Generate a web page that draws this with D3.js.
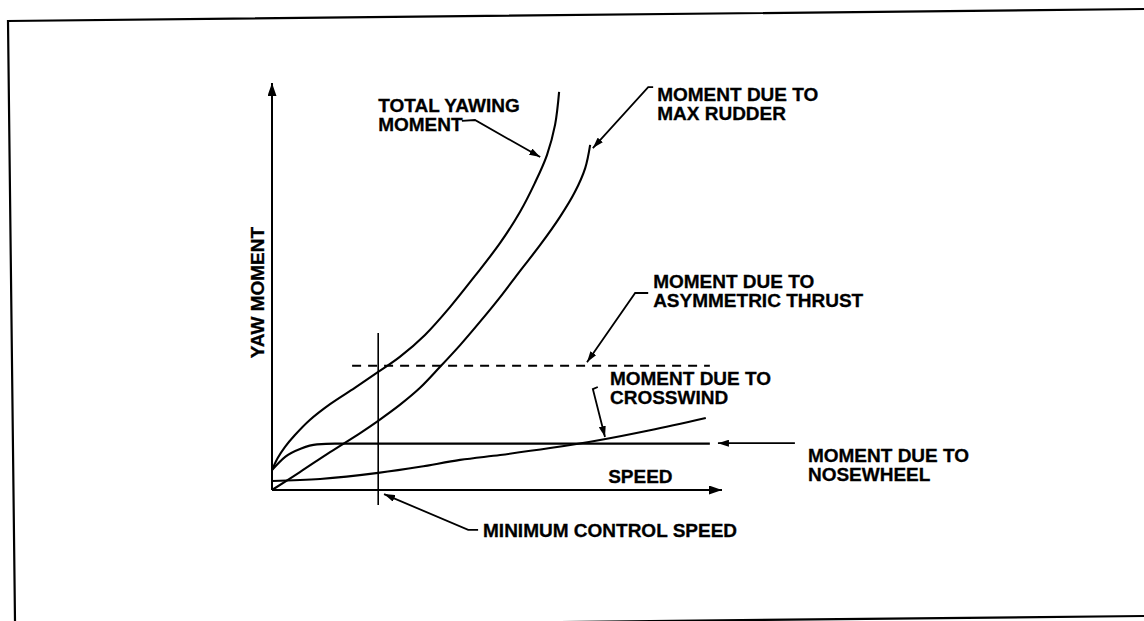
<!DOCTYPE html>
<html>
<head>
<meta charset="utf-8">
<script src="https://cdn.jsdelivr.net/npm/d3@7"></script>
<style>
  body { margin: 0; background: #fff; }
  text { font-family: "Liberation Sans", Arial, sans-serif; font-weight: bold; font-size: 19px; fill: #000; stroke: #000; stroke-width: 0.3px; }
</style>
</head>
<body>
<svg id="chart" width="1144" height="621"></svg>
<script>
// values (speed and yaw moment in arbitrary 0-100 units)
const totalSpeed   = [0, 1.3, 2.9, 5.1, 8.4, 12.9, 18.4, 23.6, 28.4, 34, 39.6, 45.1, 50.7, 55.1, 58.4, 61.1, 62.9, 63.8];
const totalMoment  = [4.9, 7.9, 10.6, 13.5, 17.2, 21.1, 25.1, 29.0, 32.7, 38.1, 45.0, 52.6, 60.7, 68.3, 75.4, 82.3, 89.7, 97.8];

const rudderSpeed  = [0, 6.2, 12.9, 19.6, 23.6, 28.4, 32.9, 37.3, 41.8, 46.2, 50.7, 55.1, 59.6, 64, 67.3, 69.6, 70.7];
const rudderMoment = [0, 4.4, 9.3, 14.0, 17.0, 20.9, 25.1, 30.2, 35.6, 41.3, 47.4, 53.8, 60.2, 67.1, 73.2, 79.1, 84.8];

const noseSpeed    = [0, 3, 6.5, 10, 14, 97.3];
const noseMoment   = [4.9, 8.2, 10.2, 11.2, 11.4, 11.4];

const windSpeed    = [0, 10.7, 23.6, 32.9, 41.8, 50.7, 61.8, 72.9, 84, 96.4];
const windMoment   = [2.2, 2.7, 4.2, 5.7, 7.4, 8.6, 10.3, 12.3, 14.7, 17.7];

const thrustSpeed  = [17.8, 97.3];
const thrustMoment = [30.5, 30.5];

const minControlSpeed = 23.6;
const minControlSpan  = [-3.7, 38.6];

// labels: text lines and where the first line starts (data units)
const labelLines = [
  ["TOTAL YAWING", "MOMENT"],
  ["MOMENT DUE TO", "MAX RUDDER"],
  ["MOMENT DUE TO", "ASYMMETRIC THRUST"],
  ["MOMENT DUE TO", "CROSSWIND"],
  ["MOMENT DUE TO", "NOSEWHEEL"],
  ["MINIMUM CONTROL SPEED"],
  ["SPEED"]
];
const labelAt = [[23.6, 92.9], [85.6, 95.6], [84.7, 49.6], [75.1, 25.8], [119.1, 6.9], [46.9, -11.5], [74.7, 1.7]];

// leader lines, last point is the arrow tip
const leaders = [
  [[42.2, 90.7], [45.1, 90.9], [59.6, 81.8]],
  [[84.7, 99.0], [83.6, 99.0], [71.3, 84.0]],
  [[83.6, 48.4], [80.7, 48.4], [70.0, 31.4]],
  [[72.4, 25.3], [71.3, 24.8], [74.0, 13.0]],
  [[116.2, 11.5], [99.1, 11.5]],
  [[45.8, -9.8], [43.6, -9.8], [24.9, -1.0]]
];

const svg = d3.select("svg#chart");

const x = d3.scaleLinear().domain([0, 100]).range([272, 722]);
const y = d3.scaleLinear().domain([0, 100]).range([490, 83]);

const defs = svg.append("defs");
function addArrow(id, w, h) {
  defs.append("marker")
    .attr("id", id)
    .attr("markerUnits", "userSpaceOnUse")
    .attr("markerWidth", w).attr("markerHeight", h)
    .attr("refX", w).attr("refY", h / 2)
    .attr("orient", "auto")
    .append("path")
      .attr("d", `M0,0L${w},${h / 2}L0,${h}Z`)
      .attr("fill", "#000");
}
addArrow("axisArrow", 13, 9);
addArrow("leadArrow", 11, 7);

// page frame of the scan (slightly rotated)
svg.append("path")
  .attr("d", "M1144,9L8,21L15,621 M560,622L1144,616")
  .attr("fill", "none")
  .attr("stroke", "#000")
  .attr("stroke-width", 2.2);

// axes
const axisLine = d3.line().x(d => x(d[0])).y(d => y(d[1]));
svg.append("path")
  .attr("d", axisLine([[0, 0], [0, 100]]))
  .attr("stroke", "#000").attr("stroke-width", 2).attr("fill", "none")
  .attr("marker-end", "url(#axisArrow)");
svg.append("path")
  .attr("d", axisLine([[0, 0], [100, 0]]))
  .attr("stroke", "#000").attr("stroke-width", 2).attr("fill", "none")
  .attr("marker-end", "url(#axisArrow)");

svg.append("text")
  .attr("transform", `translate(${x(0) - 8.5},${y(32.4)}) rotate(-90)`)
  .text("YAW MOMENT");

// curves
const series = [
  { s: totalSpeed,  m: totalMoment,  curve: d3.curveCatmullRom },
  { s: rudderSpeed, m: rudderMoment, curve: d3.curveCatmullRom },
  { s: noseSpeed,   m: noseMoment,   curve: d3.curveMonotoneX },
  { s: windSpeed,   m: windMoment,   curve: d3.curveMonotoneX }
];
series.forEach(d => {
  const pts = d.s.map((v, i) => [v, d.m[i]]);
  svg.append("path")
    .attr("d", d3.line().x(p => x(p[0])).y(p => y(p[1])).curve(d.curve)(pts))
    .attr("fill", "none")
    .attr("stroke", "#000")
    .attr("stroke-width", 2.1);
});

// asymmetric thrust, dashed
svg.append("path")
  .attr("d", axisLine(thrustSpeed.map((v, i) => [v, thrustMoment[i]])))
  .attr("stroke", "#000").attr("stroke-width", 2)
  .attr("stroke-dasharray", "9,7");

// minimum control speed marker
svg.append("path")
  .attr("d", axisLine(minControlSpan.map(v => [minControlSpeed, v])))
  .attr("stroke", "#000").attr("stroke-width", 1.6);

// leaders
leaders.forEach(pts => {
  svg.append("path")
    .attr("d", axisLine(pts))
    .attr("fill", "none")
    .attr("stroke", "#000").attr("stroke-width", 1.8)
    .attr("marker-end", "url(#leadArrow)");
});

// labels
labelLines.forEach((lines, i) => {
  const t = svg.append("text")
    .attr("x", x(labelAt[i][0]))
    .attr("y", y(labelAt[i][1]));
  lines.forEach((l, j) => {
    t.append("tspan")
      .attr("x", x(labelAt[i][0]))
      .attr("dy", j === 0 ? 0 : 19)
      .text(l);
  });
});
</script>
</body>
</html>
